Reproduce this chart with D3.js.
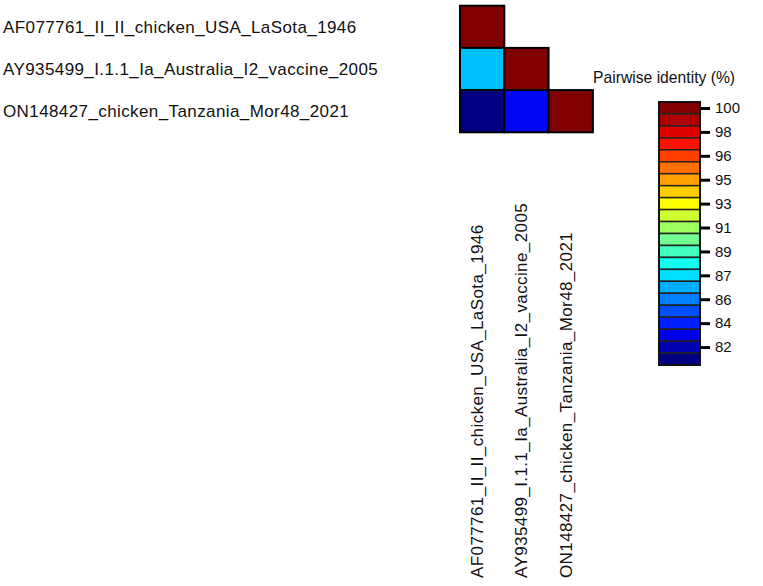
<!DOCTYPE html>
<html>
<head>
<meta charset="utf-8">
<script src="https://cdn.jsdelivr.net/npm/d3@7"></script>
<style>
  body { margin: 0; background: #fff; }
  svg { display: block; font-family: "Liberation Sans", Arial, sans-serif; }
</style>
</head>
<body>
<div id="app"></div>
<script>
const sequences = [
  'AF077761_II_II_chicken_USA_LaSota_1946',
  'AY935499_I.1.1_Ia_Australia_I2_vaccine_2005',
  'ON148427_chicken_Tanzania_Mor48_2021'
];

// lower triangle, row by row (row i has i+1 values)
const identity = [
  [100],
  [86.8, 100],
  [80.7, 83.1, 100]
];

const legendColors = [
  '#800000', '#b00000', '#df0000', '#ff1000', '#ff4000', '#ff7000',
  '#ffa000', '#ffcf00', '#ffff00', '#cfff30', '#a0ff60', '#70ff90',
  '#40ffc0', '#10fff0', '#00dfff', '#00afff', '#0080ff', '#0050ff',
  '#0020ff', '#0000ef', '#0000b0', '#000080'
];
const bandTop = 100.45;
const bandStep = 0.9;

const tickValues = [100, 98.2, 96.4, 94.6, 92.8, 91, 89.2, 87.4, 85.6, 83.8, 82];
const tickLabels = ['100', '98', '96', '95', '93', '91', '89', '87', '86', '84', '82'];

const width = 763, height = 586;
const gridX = 460, gridY = 5.7, cellW = 44.3, cellH = 42.2;
const labelFont = 17, labelSpacing = 0.4;

const svg = d3.select('#app').append('svg')
  .attr('width', width)
  .attr('height', height);

const x = d3.scaleBand().domain(d3.range(sequences.length))
  .range([gridX, gridX + cellW * sequences.length]);
const y = d3.scaleBand().domain(d3.range(sequences.length))
  .range([gridY, gridY + cellH * sequences.length]);

const bandCenters = legendColors.map((_, i) => bandTop - bandStep * (i + 0.5));
const color = d3.scaleLinear()
  .domain(bandCenters)
  .range(legendColors)
  .interpolate(d3.interpolateRgb)
  .clamp(true);

const cells = identity.flatMap((row, i) => row.map((v, j) => ({ i, j, v })));

svg.append('g')
  .selectAll('rect')
  .data(cells)
  .join('rect')
  .attr('x', d => x(d.j))
  .attr('y', d => y(d.i))
  .attr('width', x.bandwidth())
  .attr('height', y.bandwidth())
  .attr('fill', d => color(d.v))
  .attr('stroke', '#000')
  .attr('stroke-width', 2);

// row labels
svg.append('g')
  .selectAll('text')
  .data(sequences)
  .join('text')
  .attr('x', 3)
  .attr('y', (_, i) => y(i) + y.bandwidth() / 2)
  .attr('dy', '0.35em')
  .attr('font-size', labelFont)
  .attr('letter-spacing', labelSpacing)
  .attr('fill', '#111')
  .text(d => d);

// column labels
svg.append('g')
  .selectAll('text')
  .data(sequences)
  .join('text')
  .attr('transform', (_, i) => `translate(${x(i) + x.bandwidth() / 2 + 1},578) rotate(-90)`)
  .attr('font-size', labelFont)
  .attr('letter-spacing', labelSpacing)
  .attr('fill', '#111')
  .text(d => d);

// legend
const legX = 659, legW = 41, legTop = 102, legBottom = 365;
const ly = d3.scaleLinear()
  .domain([bandTop, bandTop - bandStep * legendColors.length])
  .range([legTop, legBottom]);

svg.append('text')
  .attr('x', 593)
  .attr('y', 78)
  .attr('dy', '0.35em')
  .attr('font-size', 15.7)
  .attr('fill', '#111')
  .text('Pairwise identity (%)');

const legend = svg.append('g');

legend.selectAll('rect')
  .data(legendColors)
  .join('rect')
  .attr('x', legX)
  .attr('y', (_, i) => ly(bandTop - bandStep * i))
  .attr('width', legW)
  .attr('height', (_, i) => ly(bandTop - bandStep * (i + 1)) - ly(bandTop - bandStep * i))
  .attr('fill', d => d)
  .attr('stroke', '#222')
  .attr('stroke-width', 1.5);

legend.append('rect')
  .attr('x', legX)
  .attr('y', legTop)
  .attr('width', legW)
  .attr('height', legBottom - legTop)
  .attr('fill', 'none')
  .attr('stroke', '#111')
  .attr('stroke-width', 2);

const axis = svg.append('g')
  .attr('transform', `translate(${legX + legW},0)`)
  .call(d3.axisRight(ly)
    .tickValues(tickValues)
    .tickFormat((_, i) => tickLabels[i])
    .tickSize(10)
    .tickPadding(5));

axis.select('.domain').remove();
axis.selectAll('.tick line').attr('stroke', '#000').attr('stroke-width', 3);
axis.selectAll('.tick text')
  .attr('font-size', 15)
  .attr('font-family', '"Liberation Sans", Arial, sans-serif')
  .attr('fill', '#111');
</script>
</body>
</html>
